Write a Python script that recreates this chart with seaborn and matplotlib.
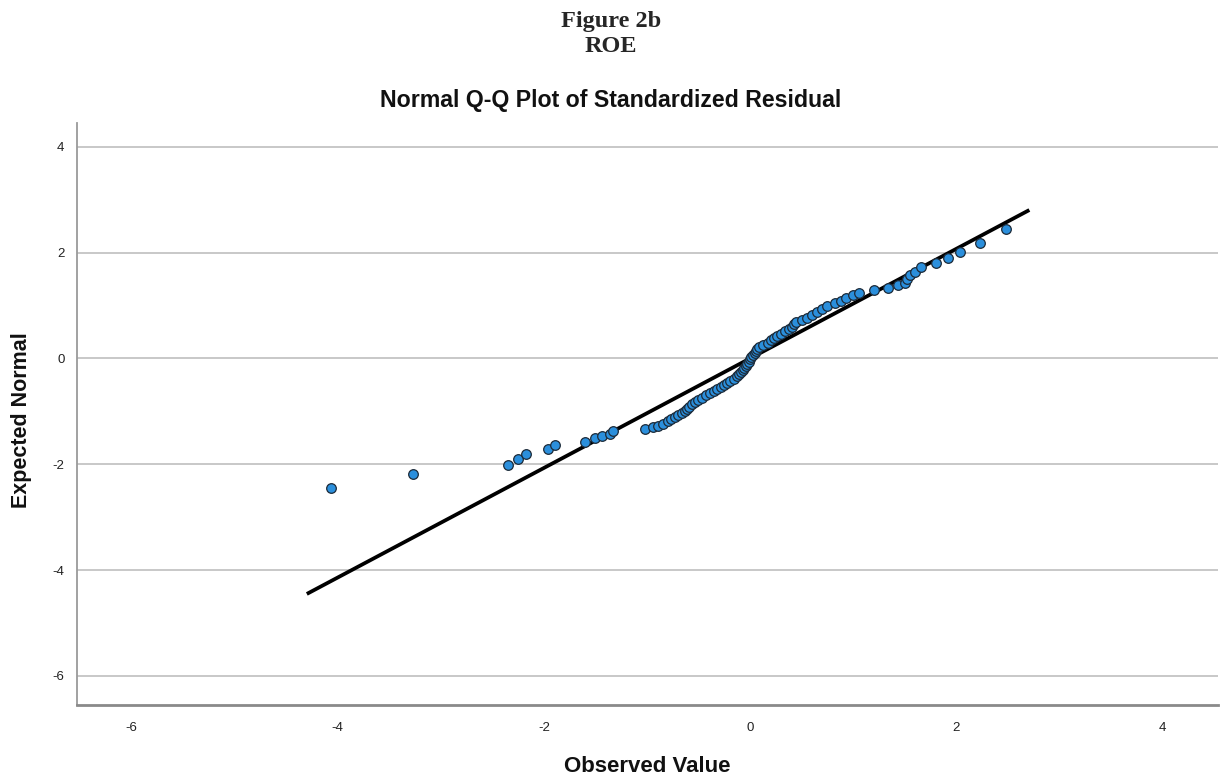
import numpy as np
import pandas as pd
import matplotlib
matplotlib.use("Agg")
import matplotlib.pyplot as plt
import seaborn as sns

# ---- data ----
observed = [-4.07, -3.27, -2.35, -2.25, -2.17, -1.96, -1.89, -1.60, -1.50, -1.44,
            -1.36, -1.33, -1.02, -0.94, -0.89, -0.84, -0.80, -0.77, -0.73, -0.70,
            -0.66, -0.63, -0.61, -0.59, -0.56, -0.53, -0.50, -0.47, -0.43, -0.39,
            -0.35, -0.32, -0.28, -0.25, -0.22, -0.19, -0.16, -0.13, -0.11, -0.09,
            -0.07, -0.06, -0.04, -0.03, -0.01, 0.00, 0.01, 0.03, 0.05, 0.06,
            0.07, 0.09, 0.13, 0.17, 0.20, 0.23, 0.26, 0.30, 0.34, 0.38,
            0.41, 0.43, 0.45, 0.50, 0.55, 0.60, 0.65, 0.70, 0.75, 0.82,
            0.88, 0.93, 1.00, 1.06, 1.20, 1.34, 1.44, 1.50, 1.52, 1.55,
            1.60, 1.66, 1.80, 1.92, 2.04, 2.23, 2.48]
expected = [-2.45, -2.19, -2.02, -1.91, -1.80, -1.72, -1.64, -1.58, -1.51, -1.47,
            -1.42, -1.38, -1.33, -1.30, -1.27, -1.23, -1.19, -1.15, -1.11, -1.07,
            -1.03, -0.99, -0.95, -0.91, -0.87, -0.82, -0.78, -0.74, -0.70, -0.66,
            -0.62, -0.58, -0.54, -0.50, -0.46, -0.42, -0.38, -0.34, -0.30, -0.26,
            -0.22, -0.18, -0.14, -0.10, -0.06, -0.02, 0.02, 0.06, 0.10, 0.14,
            0.18, 0.22, 0.26, 0.30, 0.34, 0.38, 0.42, 0.47, 0.51, 0.55,
            0.60, 0.65, 0.69, 0.73, 0.77, 0.82, 0.87, 0.93, 0.99, 1.04,
            1.09, 1.14, 1.19, 1.24, 1.30, 1.33, 1.38, 1.43, 1.50, 1.57,
            1.64, 1.72, 1.80, 1.90, 2.02, 2.19, 2.45]

# reference line: expected = (observed - mean) / sd
line_x = [-4.30, 2.71]
line_mean = 0.0
line_sd = 0.966

x_ticks = [-6, -4, -2, 0, 2, 4]
y_ticks = [-6, -4, -2, 0, 2, 4]

fig_title_1 = "Figure 2b"
fig_title_2 = "ROE"
title_plot = "Normal Q-Q Plot of Standardized Residual"
xlabel = "Observed Value"
ylabel = "Expected Normal"

# ---- style ----
sns.set_style("white")
plt.rcParams['font.family'] = ['Liberation Sans', 'DejaVu Sans']
plt.rcParams['axes.unicode_minus'] = False

fig = plt.figure(figsize=(12.22, 7.80), dpi=100)
ax = fig.add_axes([0.063, 0.0962, 0.9337, 0.7461])

df = pd.DataFrame({"observed": observed, "expected": expected})
line_df = pd.DataFrame({"x": line_x,
                        "y": [(v - line_mean) / line_sd for v in line_x]})

sns.lineplot(data=line_df, x="x", y="y", ax=ax, color="black", lw=2.7,
             zorder=2, solid_capstyle="butt")
sns.scatterplot(data=df, x="observed", y="expected", ax=ax, s=48,
                color="#2b8fdc", edgecolor="#1c2a38", linewidth=0.9, zorder=3)

ax.set_xlim(-6.53, 4.54)
ax.set_ylim(-6.55, 4.45)
ax.set_xticks(x_ticks)
ax.set_yticks(y_ticks)
ax.set_xticklabels([str(t) for t in x_ticks])
ax.set_yticklabels([str(t) for t in y_ticks])
ax.tick_params(axis="both", length=0, labelsize=9.5, colors="#222222")
ax.tick_params(axis="x", pad=12)
ax.tick_params(axis="y", pad=9)

ax.yaxis.grid(True, color="#c8c8c8", lw=1.4, zorder=0)
ax.xaxis.grid(False)
for side in ["top", "right"]:
    ax.spines[side].set_visible(False)
ax.spines["left"].set_color("#9a9a9a")
ax.spines["left"].set_linewidth(1.3)
ax.spines["bottom"].set_color("#8a8a8a")
ax.spines["bottom"].set_linewidth(2.0)

ax.set_xlabel("")
ax.set_ylabel("")
fig.text(0.5295, 1 - 767 / 780, xlabel, ha="center", va="center",
         fontsize=16, fontweight="bold", color="#111111")
fig.text(22 / 1222, 1 - 420 / 780, ylabel, ha="center", va="center",
         rotation=90, fontsize=15.5, fontweight="bold", color="#111111")

serif = ["Liberation Serif", "DejaVu Serif"]
fig.text(0.5, 1 - 22 / 780, fig_title_1, ha="center", va="center", fontsize=17.5,
         fontweight="bold", family=serif)
fig.text(0.5, 1 - 46 / 780, fig_title_2, ha="center", va="center", fontsize=17.5,
         fontweight="bold", family=serif)
fig.text(0.5, 1 - 100 / 780, title_plot, ha="center", va="center",
         fontsize=16.7, fontweight="bold", color="#111111")

fig.savefig("out.png", dpi=100)
